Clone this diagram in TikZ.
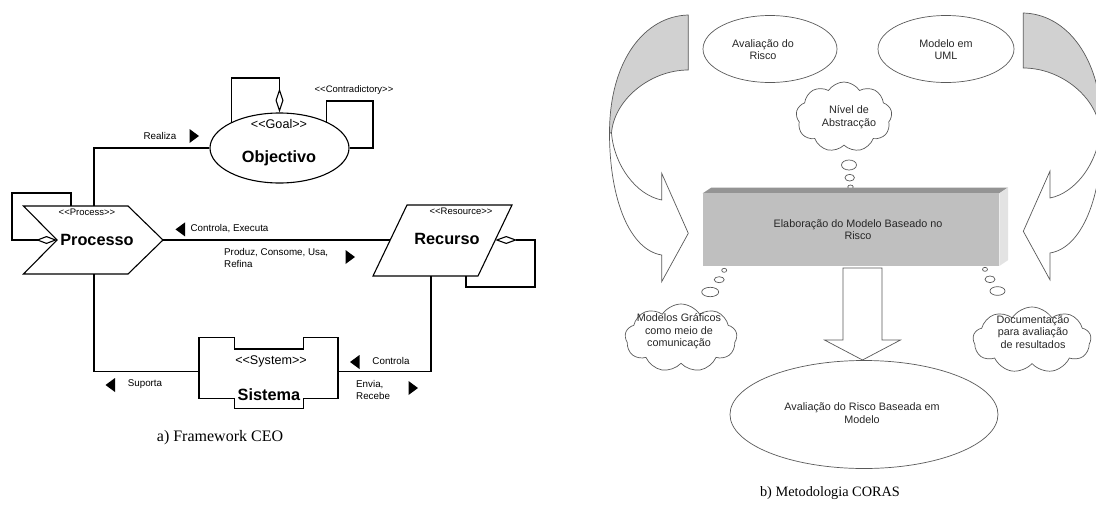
\documentclass[tikz,border=0pt]{standalone}
\usepackage{fontspec}
\setmainfont{Liberation Sans}[Ligatures=TeXOff]
\newfontfamily\capfont{Liberation Serif}
\usetikzlibrary{arrows.meta,shapes.geometric,shapes.symbols}

\begin{document}
\begin{tikzpicture}[x=1pt,y=-1pt,
  uml/.style={line width=1.1pt,line join=miter},
  agg/.style={-{Diamond[open,length=#1,width=8pt]}},
  lbl/.style={font=\fontsize{9.8}{12}\selectfont,inner sep=0pt,align=left},
  stsmall/.style={font=\fontsize{9.5}{11}\selectfont,inner sep=0pt},
  stbig/.style={font=\fontsize{12.6}{14}\selectfont,inner sep=0pt},
  ename/.style={font=\bfseries\fontsize{16.3}{18}\selectfont,inner sep=0pt},
  tri/.pic={\fill (-4.5,-7) -- (5,0) -- (-4.5,7) -- cycle;},
  soft/.style={draw=black!65,line width=0.7pt},
  ctext/.style={font=\fontsize{10.8}{12.6}\selectfont,text=black!85,align=center,inner sep=0pt},
  bubble/.style={soft,ellipse,inner sep=0pt},
  think/.style={soft,cloud,cloud puffs=9,cloud puff arc=115,cloud ignores aspect,inner sep=0pt},
  caption/.style={font=\capfont\fontsize{16}{18}\selectfont,inner sep=0pt},
  curvarrow/.pic={
    % back band of the curved arrow
    \path[soft,fill=black!18] (0,15) .. controls (-43.3,16) and (-78.8,60) .. (-78.8,133)
      -- (-76.8,133) .. controls (-74.3,100) and (-38.3,70) .. (0,70) -- cycle;
    % front part ending in the arrow head
    \path[soft,fill=white] (-78.8,133) .. controls (-78.8,200) and (-58.3,250) .. (-26.6,255)
      -- (-26.6,281.7) -- (0,233.3) -- (-26.6,173.3) -- (-26.6,200)
      .. controls (-52.3,195) and (-74.3,165) .. (-76.8,133) -- cycle;
  }
]
\useasboundingbox (0,0) rectangle (1096,509);

% ================= a) Framework CEO =================
% Goal
\node[uml,draw,ellipse,minimum width=139pt,minimum height=70pt,inner sep=0pt] (obj) at (279.5,148) {};
\node[stbig] (obj-st) at (279,124) {<<Goal>>};
\node[ename] (obj-name) at (279,158) {Objectivo};
\coordinate (goal-top) at (279.5,78);
\draw[uml,agg=24pt] (obj.152) |- (goal-top) -- (obj.north);
\coordinate (contr-ne) at (373,101);
\draw[uml] (obj.29) |- (contr-ne) |- (obj.east);
\node[stsmall] (contr) at (354,90) {<<Contradictory>>};

% Process
\coordinate (proc-nw) at (23.5,206);
\coordinate (proc-ne) at (128,206);
\coordinate (proc-tip) at (163,240);
\coordinate (proc-se) at (128,274);
\coordinate (proc-sw) at (23.5,274);
\coordinate (proc-notch) at (57,240);
\draw[uml] (proc-nw) -- (proc-ne) -- (proc-tip) -- (proc-se) -- (proc-sw) -- (proc-notch) -- cycle;
\node[stsmall] (proc-st) at (87,212) {<<Process>>};
\node[ename] (proc) at (97,240) {Processo};
\coordinate (proc-loop-a) at (71,206);
\coordinate (proc-loop-b) at (12,193);
\draw[uml,agg=21pt] (proc-loop-a) |- (proc-loop-b) |- (proc-notch);

% Resource
\coordinate (rec-nw) at (407,205);
\coordinate (rec-ne) at (512,205);
\coordinate (rec-se) at (478,276);
\coordinate (rec-sw) at (373,276);
\draw[uml] (rec-nw) -- (rec-ne) -- (rec-se) -- (rec-sw) -- cycle;
\node[stsmall] (rec-st) at (461,211) {<<Resource>>};
\node[ename] (rec) at (447,239) {Recurso};
\coordinate (rec-w) at (390.2,240);
\coordinate (rec-e) at (495.2,240);
\coordinate (rec-loop-a) at (466,276);
\coordinate (rec-loop-b) at (535,287);
\draw[uml,agg=22pt] (rec-loop-a) |- (rec-loop-b) |- (rec-e);

% System
\draw[uml] (199,337.5) -- (234.5,337.5) -- (234.5,349) -- (303.5,349) -- (303.5,337.5)
  -- (338,337.5) -- (338,398.5) -- (303.5,398.5) -- (303.5,408.5) -- (234.5,408.5)
  -- (234.5,398.5) -- (199,398.5) -- cycle;
\node[stbig] (sys-st) at (271,361.5) {<<System>>};
\node[ename] (sys) at (269,395) {Sistema};
\coordinate (sys-w) at (199,371.5);
\coordinate (sys-e) at (338,371.5);

% relations
\coordinate (proc-top) at (94,206);
\coordinate (proc-bot) at (94,274);
\coordinate (rec-bot) at (431,276);
\draw[uml] (proc-top) |- (obj.west);
\draw[uml] (proc-tip) -- (rec-w);
\draw[uml] (proc-bot) |- (sys-w);
\draw[uml] (rec-bot) |- (sys-e);

\node[lbl] (l-realiza) at (160,136) {Realiza};
\pic at (194,136) {tri};
\node[lbl] (l-controla1) at (229.5,228.7) {Controla, Executa};
\pic[rotate=180] at (180.5,229.4) {tri};
\node[lbl,anchor=west] (l-produz) at (224,257.6) {Produz, Consome, Usa,\\Refina};
\pic at (350,257) {tri};
\node[lbl] (l-suporta) at (145,384.5) {Suporta};
\pic[rotate=180] at (110.5,385) {tri};
\node[lbl] (l-controla2) at (391,361) {Controla};
\pic[rotate=180] at (355,362) {tri};
\node[lbl,anchor=west] (l-envia) at (356,390) {Envia,\\Recebe};
\pic at (413,388) {tri};

\node[caption] (cap-a) at (220,438) {a) Framework CEO};

% ================= b) Metodologia CORAS =================
\pic at (688.3,0) {curvarrow};
\pic[xscale=-1] at (1023.3,-2) {curvarrow};

\node[soft,ellipse,minimum width=134pt,minimum height=67pt,inner sep=0pt] (risk) at (770,49) {};
\node[ctext] (risk-t) at (763,49.5) {Avaliação do\\Risco};
\node[soft,ellipse,minimum width=136pt,minimum height=67pt,inner sep=0pt] (uml) at (946,49) {};
\node[ctext] (uml-t) at (946,49.5) {Modelo em\\UML};

\node[think,minimum width=96pt,minimum height=70pt] (abs) at (844,117) {};
\node[ctext] (abs-t) at (849,117) {Nível de\\Abstracção};
\node[bubble,minimum width=15pt,minimum height=10pt] (abs-b1) at (849,165) {};
\node[bubble,minimum width=9.5pt,minimum height=6.7pt] (abs-b2) at (849.7,177.7) {};
\node[bubble,minimum width=5.5pt,minimum height=4pt] (abs-b3) at (850.5,187) {};

% 3D block
\fill[black!42] (702.7,193.3) -- (711.4,187.5) -- (1008,187.5) -- (999.3,193.3) -- cycle;
\fill[black!11] (999.3,193.3) -- (1008,187.5) -- (1008,260.2) -- (999.3,266) -- cycle;
\node[fill=black!25,minimum width=296.6pt,minimum height=72.7pt,inner sep=0pt] (box) at (851,229.65) {};
\node[ctext] (box-t) at (858,229.6) {Elaboração do Modelo Baseado no\\Risco};

% block arrow down
\draw[soft,fill=white] (843,268) -- (882,268) -- (882,340) -- (900.5,340) -- (862.5,360)
  -- (824.5,340) -- (843,340) -- cycle;

\node[soft,ellipse,minimum width=268pt,minimum height=108pt,inner sep=0pt] (final) at (864,414.5) {};
\node[ctext] (final-t) at (862,413) {Avaliação do Risco Baseada em\\Modelo};

% thought clouds
\node[think,minimum width=112pt,minimum height=68pt] (graf) at (681,338) {};
\node[ctext] (graf-t) at (679,331.5) {Modelos Gráficos\\como meio de\\comunicação};
\node[bubble,minimum width=5pt,minimum height=4pt] (graf-b1) at (724.2,270.3) {};
\node[bubble,minimum width=10pt,minimum height=6pt] (graf-b2) at (719.2,279.7) {};
\node[bubble,minimum width=17pt,minimum height=9.4pt] (graf-b3) at (710.2,292) {};

\node[think,minimum width=118pt,minimum height=66pt] (doc) at (1032,340) {};
\node[ctext] (doc-t) at (1033,332) {Documentação\\para avaliação\\de resultados};
\node[bubble,minimum width=5pt,minimum height=4pt] (doc-b1) at (985,269.3) {};
\node[bubble,minimum width=10pt,minimum height=6.7pt] (doc-b2) at (990,279.3) {};
\node[bubble,minimum width=15pt,minimum height=8.7pt] (doc-b3) at (997.5,291) {};

\node[caption,font=\capfont\fontsize{14.3}{16}\selectfont] (cap-b) at (830,493) {b) Metodologia CORAS};
\end{tikzpicture}
\end{document}
